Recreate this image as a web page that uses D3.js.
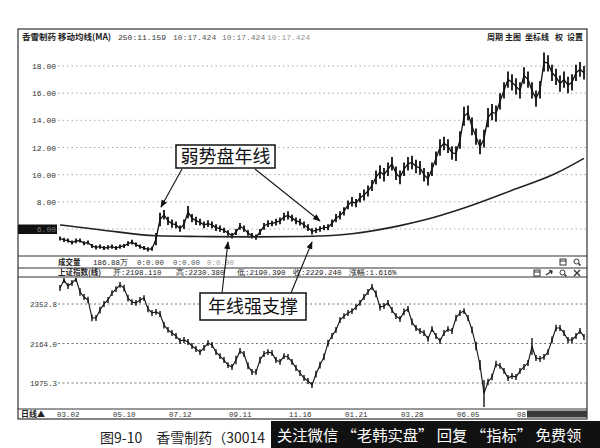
<!DOCTYPE html>
<html><head><meta charset="utf-8">
<script src="https://cdn.jsdelivr.net/npm/d3@7"></script>
<style>
body{margin:0;background:#fff;}
svg{display:block;}
</style></head>
<body>
<script>
// ---------------- DATA ----------------
const priceTicks = [18, 16, 14, 12, 10, 8, 6];
const indexTicks = [2352.8, 2164.0, 1975.3];
const dateLabels = ["03.02","05.10","07.12","09.11","11.16","01.21","03.28","06.05","08.14"];
const dateIdx = [0,14,28,43,58,72,86,100,115];

// 香雪制药 daily bars (sampled) – high / low
const priceHigh = [5.45,5.35,5.3,5.15,5.3,5.3,5.1,5.15,4.9,4.8,4.85,4.75,4.8,4.85,4.75,4.85,4.9,5.1,5.2,5.0,4.85,4.75,4.65,4.7,
 5.7,7.2,7.4,6.9,6.7,6.55,6.25,6.7,7.7,7.1,6.9,6.75,6.55,6.65,6.55,6.35,6.25,6.1,5.9,5.7,6.0,6.45,6.25,5.9,5.7,5.6,
 6.0,6.45,6.65,6.6,6.75,6.85,7.2,7.3,7.05,6.85,6.75,6.55,6.35,6.05,6.1,6.2,6.3,6.35,6.7,7.1,7.3,7.6,8.1,8.35,8.2,
 8.65,8.9,9.2,9.6,10.3,10.7,10.5,10.9,11.3,10.6,10.3,10.9,11.3,11.4,11.1,11.0,10.5,10.2,10.9,11.7,12.6,12.8,12.6,
 12.1,12.1,13.2,15.0,15.1,14.2,13.4,12.6,13.3,14.9,15.2,15.1,16.0,16.8,17.6,17.4,17.1,16.8,17.9,17.6,16.8,16.2,
 16.9,19.0,18.8,18.1,17.8,17.3,17.6,17.2,17.4,18.1,18.3,18.0];
const priceLow = [5.15,5.05,5.0,4.85,4.95,5.0,4.8,4.85,4.6,4.5,4.55,4.45,4.5,4.55,4.45,4.55,4.6,4.75,4.85,4.7,4.55,4.45,4.35,4.4,
 4.8,6.2,6.7,6.3,6.1,6.05,5.8,6.0,6.8,6.5,6.3,6.25,6.05,6.15,6.05,5.85,5.8,5.7,5.5,5.3,5.55,5.95,5.8,5.5,5.3,5.2,
 5.55,5.95,6.15,6.2,6.25,6.35,6.6,6.7,6.55,6.35,6.25,6.05,5.85,5.6,5.7,5.8,5.9,5.9,6.15,6.5,6.7,7.0,7.45,7.65,7.6,
 7.95,8.1,8.4,8.8,9.3,9.7,9.5,9.9,10.3,9.6,9.3,9.9,10.3,10.4,10.1,10.0,9.5,9.2,9.9,10.7,11.4,11.8,11.6,
 11.1,11.0,11.9,13.6,14.0,12.9,12.2,11.5,12.0,13.5,14.0,13.9,14.8,15.6,16.4,16.2,15.9,15.6,16.7,16.4,15.6,15.0,
 15.6,17.6,17.6,16.9,16.6,16.1,16.4,16.0,16.2,16.9,17.2,17.0];

// 250-day moving average, read at selected bars
const ma250Idx = [0,10,24,35,48,60,68,73,85,91,101,113,124,131];
const ma250Val = [6.3,5.95,5.5,5.45,5.42,5.45,5.52,5.65,6.25,6.66,7.55,8.85,10.1,11.2];

// 上证指数 daily bars (sampled) – high / low
const indexHigh = [2443,2481,2453,2467,2486,2428,2400,2388,2302,2300,2340,2367,2386,2419,2438,2458,2445,2397,2376,2372,
 2386,2395,2345,2324,2329,2319,2268,2243,2228,2214,2190,2195,2185,2166,2152,2137,2157,2180,2171,2137,2118,2099,2075,
 2066,2105,2142,2128,2073,2042,2042,2101,2128,2137,2133,2099,2090,2118,2114,2090,2061,2037,2013,1999,1980,2034,2077,
 2116,2182,2214,2243,2290,2309,2324,2333,2352,2372,2400,2424,2448,2417,2354,2357,2372,2338,2309,2295,2331,2343,2283,
 2252,2238,2228,2200,2247,2214,2190,2228,2247,2238,2302,2324,2333,2300,2245,2172,2085,1990,1996,2020,2082,2071,2047,
 2013,2023,2018,2047,2066,2085,2190,2109,2104,2114,2137,2197,2254,2252,2228,2195,2195,2214,2238,2209];
const indexLow = [2415,2453,2425,2439,2458,2392,2372,2356,2270,2272,2308,2339,2358,2391,2410,2430,2413,2365,2348,2344,
 2358,2367,2313,2296,2301,2291,2236,2215,2200,2186,2162,2167,2157,2138,2124,2109,2129,2152,2143,2109,2090,2071,2047,
 2038,2065,2114,2100,2041,2014,2014,2069,2100,2109,2105,2071,2062,2090,2086,2062,2033,2009,1985,1971,1952,2002,2045,
 2084,2150,2186,2215,2262,2281,2296,2305,2324,2344,2372,2396,2420,2385,2322,2329,2344,2310,2281,2267,2299,2315,2251,
 2224,2210,2200,2172,2219,2186,2162,2200,2219,2210,2270,2296,2305,2272,2213,2132,2037,1861,1964,1988,2050,2043,2019,
 1985,1995,1990,2019,2038,2057,2109,2081,2076,2086,2109,2165,2222,2224,2200,2167,2167,2186,2210,2181];

// ---------------- DRAW ----------------
const W = 600, H = 448;
const svg = d3.select("body").append("svg").attr("width", W).attr("height", H);
const mono = "'Liberation Mono','DejaVu Sans Mono',monospace";
const cjk = "'Noto Sans CJK SC','Noto Sans',sans-serif";

const N = priceHigh.length;
const x = d3.scaleLinear().domain([0, N - 1]).range([60, 584]);
const yP = d3.scaleLinear().domain([6, 18]).range([229, 66]);
const yI = d3.scaleLinear().domain([1975.3, 2352.8]).range([383, 304]);

const L = 18, R = 587, T = 29, B = 419;
const priceBottom = 256, volLine = 268, idxTop = 277, idxBottom = 409;

svg.append("defs").html(`
 <clipPath id="cp"><rect x="58" y="42" width="${R-58}" height="${priceBottom-42}"/></clipPath>
 <clipPath id="ci"><rect x="58" y="${idxTop+1}" width="${R-58}" height="${idxBottom-idxTop-1}"/></clipPath>
 <marker id="ah" viewBox="0 0 10 10" refX="9" refY="5" markerWidth="7" markerHeight="7" orient="auto-start-reverse">
  <path d="M0,1 L10,5 L0,9 z" fill="#111"/></marker>`);

// frame
svg.append("rect").attr("x", L).attr("y", T).attr("width", R - L).attr("height", B - T)
  .attr("fill", "none").attr("stroke", "#333").attr("stroke-width", 1.2);
[priceBottom, volLine, idxTop, idxBottom].forEach(yy =>
  svg.append("line").attr("x1", L).attr("x2", R).attr("y1", yy).attr("y2", yy)
    .attr("stroke", "#333").attr("stroke-width", 1));

// header
const hdr = svg.append("g").attr("font-size", 8);
hdr.append("text").attr("x", 22).attr("y", 40).attr("font-family", cjk).attr("font-weight", "bold")
  .attr("font-size", 8.5).attr("fill", "#222").text("香雪制药 移动均线(MA)");
[["250:11.159",118,"#333"],["10:17.424",173,"#555"],["10:17.424",222,"#777"],["10:17.424",267,"#999"]]
  .forEach(d => hdr.append("text").attr("x", d[1]).attr("y", 40).attr("font-family", mono)
    .attr("fill", d[2]).text(d[0]));
[["周期",487],["主图",505],["坐标线",525],["权",555],["设置",567]].forEach(d =>
  hdr.append("text").attr("x", d[1]).attr("y", 40).attr("font-family", cjk).attr("font-weight", "bold")
   .attr("font-size", 8).attr("fill", "#222").text(d[0]));

// price grid + labels
const pg = svg.append("g");
priceTicks.forEach(t => {
  pg.append("line").attr("x1", 58).attr("x2", R - 1).attr("y1", yP(t)).attr("y2", yP(t))
    .attr("stroke", "#aaa").attr("stroke-dasharray", "1.5,3").attr("stroke-width", 1);
});
pg.append("rect").attr("x", L).attr("y", yP(6) - 4.5).attr("width", 39).attr("height", 9.5).attr("fill", "#111");
priceTicks.forEach(t => {
  pg.append("text").attr("x", 56).attr("y", yP(t) + 3).attr("text-anchor", "end")
    .attr("font-family", mono).attr("font-size", 8).attr("fill", t === 6 ? "#777" : "#333")
    .text(t.toFixed(2));
});

// price bars
const pb = svg.append("g").attr("clip-path", "url(#cp)");
pb.selectAll("line.bar").data(priceHigh).join("line")
  .attr("x1", (d, i) => x(i)).attr("x2", (d, i) => x(i))
  .attr("y1", d => yP(d)).attr("y2", (d, i) => yP(priceLow[i]))
  .attr("stroke", "#111").attr("stroke-width", 1.8);
pb.append("path")
  .attr("d", d3.line().x((d, i) => x(i)).y((d, i) => yP((d + priceLow[i]) / 2))(priceHigh))
  .attr("fill", "none").attr("stroke", "#111").attr("stroke-width", 1.3);
pb.append("path")
  .attr("d", d3.line().curve(d3.curveMonotoneX).x((d, i) => x(ma250Idx[i])).y(d => yP(d))(ma250Val))
  .attr("fill", "none").attr("stroke", "#222").attr("stroke-width", 1.6);

// volume row
const vr = svg.append("g").attr("font-size", 7.5);
vr.append("text").attr("x", 58).attr("y", 265).attr("font-family", cjk).attr("font-weight", "bold").attr("fill", "#222").text("成交量");
vr.append("text").attr("x", 93).attr("y", 265).attr("font-family", mono).attr("fill", "#222").text("186.88万");
[["0:0.00",137,"#333"],["0:0.00",173,"#555"],["0:0.00",207,"#999"]].forEach(d =>
  vr.append("text").attr("x", d[1]).attr("y", 265).attr("font-family", mono).attr("fill", d[2]).text(d[0]));
// index header row
const ir = svg.append("g").attr("font-size", 7.5);
ir.append("text").attr("x", 58).attr("y", 275).attr("font-family", cjk).attr("font-weight", "bold").attr("fill", "#222").text("上证指数(线)");
[["开:2198.110",113],["高:2230.380",176],["低:2190.390",237],["收:2229.240",293],["涨幅:1.616%",349]].forEach(d =>
  ir.append("text").attr("x", d[1]).attr("y", 275).attr("font-family", mono).attr("fill", "#222").text(d[0]));

// small icons
function icon(cx, cy, type) {
  const g = svg.append("g").attr("fill", "none").attr("stroke", "#333").attr("stroke-width", 1);
  if (type === "box") { g.append("rect").attr("x", cx - 3).attr("y", cy - 3).attr("width", 6).attr("height", 6);
    g.append("line").attr("x1", cx - 3).attr("x2", cx + 3).attr("y1", cy - 1).attr("y2", cy - 1); }
  if (type === "zoom") { g.append("circle").attr("cx", cx - 0.5).attr("cy", cy - 0.5).attr("r", 2.5);
    g.append("line").attr("x1", cx + 1.5).attr("y1", cy + 1.5).attr("x2", cx + 3.5).attr("y2", cy + 3.5).attr("stroke-width", 1.6); }
  if (type === "x") { g.append("path").attr("d", `M${cx-3},${cy-3}L${cx+3},${cy+3}M${cx+3},${cy-3}L${cx-3},${cy+3}`).attr("stroke-width", 1.4); }
  if (type === "arrow") { g.append("path").attr("d", `M${cx-3},${cy+2}L${cx+3},${cy-2}M${cx},${cy-2.5}L${cx+3},${cy-2}L${cx+2.5},${cy+1}`).attr("stroke-width", 1.3); }
}
icon(563, 262, "box"); icon(577, 262, "zoom");
icon(537, 273, "box"); icon(549, 273, "arrow"); icon(563, 273, "zoom"); icon(577, 273, "x");

// index grid + labels
const ig = svg.append("g");
indexTicks.forEach(t => {
  ig.append("line").attr("x1", 58).attr("x2", R - 1).attr("y1", yI(t)).attr("y2", yI(t))
    .attr("stroke", "#777").attr("stroke-dasharray", "2,2.5").attr("stroke-width", 1);
  ig.append("text").attr("x", 57).attr("y", yI(t) + 3).attr("text-anchor", "end")
    .attr("font-family", mono).attr("font-size", 7.5).attr("fill", "#333").text(t.toFixed(1));
});
const ib = svg.append("g").attr("clip-path", "url(#ci)");
ib.selectAll("line.bar").data(indexHigh).join("line")
  .attr("x1", (d, i) => x(i)).attr("x2", (d, i) => x(i))
  .attr("y1", d => yI(d)).attr("y2", (d, i) => yI(indexLow[i]))
  .attr("stroke", "#111").attr("stroke-width", 1.4);
ib.append("path")
  .attr("d", d3.line().x((d, i) => x(i)).y((d, i) => yI((d + indexLow[i]) / 2))(indexHigh))
  .attr("fill", "none").attr("stroke", "#111").attr("stroke-width", 1.1);

// date axis
const da = svg.append("g").attr("font-size", 7.5);
da.append("text").attr("x", 21).attr("y", 417).attr("font-family", cjk).attr("font-weight", "bold")
  .attr("font-size", 8).attr("fill", "#222").text("日线▲");
dateLabels.forEach((d, k) =>
  da.append("text").attr("x", x(dateIdx[k]) - 3).attr("y", 417).attr("font-family", mono).attr("fill", "#333").text(d));
svg.append("rect").attr("x", 527).attr("y", idxBottom + 1.5).attr("width", R - 527).attr("height", B - idxBottom - 3)
  .attr("fill", "#3a3a3a");

// annotations
function note(x0, y0, w, h, txt) {
  svg.append("rect").attr("x", x0).attr("y", y0).attr("width", w).attr("height", h)
    .attr("fill", "#fff").attr("stroke", "#111").attr("stroke-width", 1.5);
  svg.append("text").attr("x", x0 + w / 2).attr("y", y0 + h / 2 + 6.5).attr("text-anchor", "middle")
    .attr("font-family", cjk).attr("font-size", 18).attr("fill", "#111").text(txt);
}
function arrow(x1, y1, x2, y2) {
  svg.append("line").attr("x1", x1).attr("y1", y1).attr("x2", x2).attr("y2", y2)
    .attr("stroke", "#111").attr("stroke-width", 1.1).attr("marker-end", "url(#ah)");
}
arrow(182, 169, 161, 207);
arrow(255, 169, 320, 221);
arrow(222, 293, 228, 242);
arrow(291, 293, 312, 242);
note(176, 145, 99, 23, "弱势盘年线");
note(200, 293, 106, 27, "年线强支撑");

// caption + watermark
svg.append("text").attr("x", 100).attr("y", 443).attr("font-family", cjk).attr("font-size", 14)
  .attr("fill", "#222").text("图9-10　香雪制药（30014");
svg.append("rect").attr("x", 271).attr("y", 421).attr("width", W - 271).attr("height", H - 421).attr("fill", "#111");
svg.append("text").attr("x", 277).attr("y", 441).attr("font-family", cjk).attr("font-size", 15.3)
  .attr("fill", "#fff")
  .text("关注微信 “老韩实盘” 回复 “指标” 免费领");
</script>
</body></html>
